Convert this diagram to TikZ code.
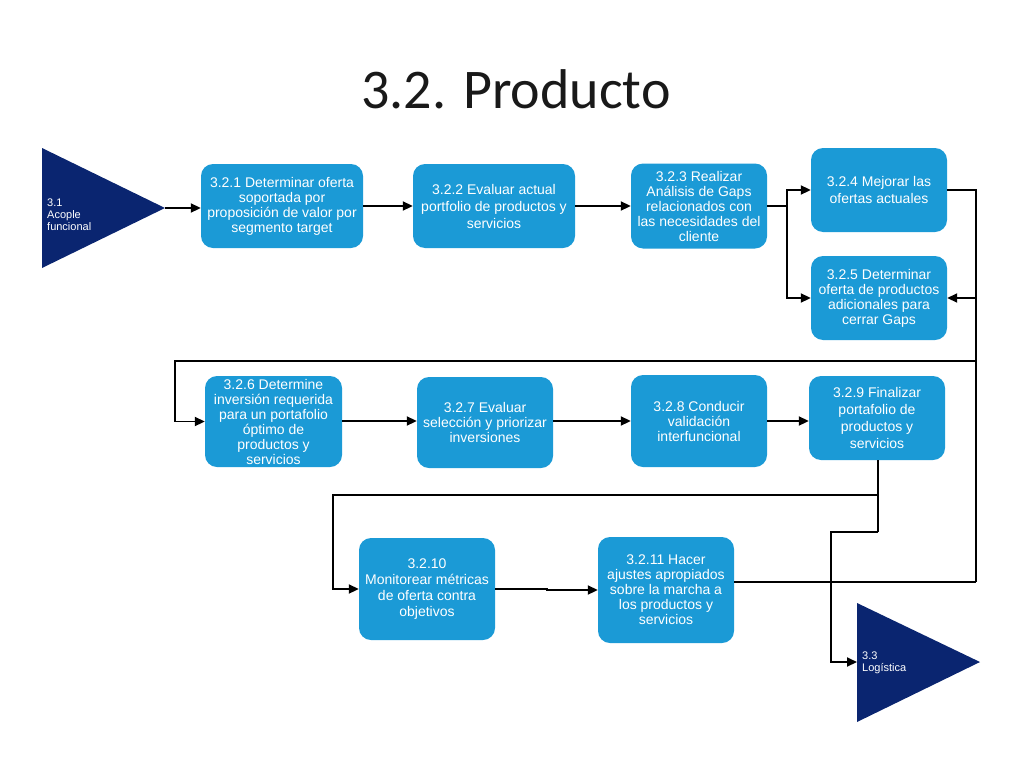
\documentclass[tikz,border=0pt]{standalone}
\usepackage{fontspec}
\setmainfont{Liberation Sans}
\newfontfamily\titlefont{Carlito}
\usetikzlibrary{arrows.meta}
\definecolor{boxblue}{RGB}{27,154,214}
\definecolor{navy}{RGB}{10,37,112}
\tikzset{
  box/.style={fill=boxblue, rounded corners=12pt, text=white, align=center, inner sep=0pt,
    minimum width=136pt, minimum height=84pt, font=\fontsize{14}{15}\selectfont},
  wide/.style={font=\fontsize{14}{17}\selectfont},
  tritext/.style={text=white, align=left, inner sep=0pt, font=\fontsize{11}{12}\selectfont},
  conn/.style={draw=black, line width=1.9pt},
  arr/.style={conn, -{Triangle[length=10pt,width=9pt]}}
}
\begin{document}
\begin{tikzpicture}[x=1pt,y=-1pt]
\useasboundingbox (0,0) rectangle (1024,768);
\node[font=\titlefont\fontsize{56}{60}\selectfont, anchor=base, text=black!90] (title) at (516,108) {3.2. Producto};

% triangles
\fill[navy] (42,148) -- (42,268) -- (165,208) -- cycle;
\coordinate (t31) at (165,208);
\node[tritext, anchor=west] (l31) at (47,215) {3.1\\Acople\\funcional};
\fill[navy] (857,603) -- (857,722) -- (980,662) -- cycle;
\coordinate (t33) at (857,662);
\node[tritext, anchor=west] (l33) at (862,663) {3.3\\Logística};

% boxes
\node[box, minimum width=162pt] (n321) at (282,206) {3.2.1 Determinar oferta\\soportada por\\proposición de valor por\\segmento target};
\node[box, wide, minimum width=162pt] (n322) at (494,206) {3.2.2 Evaluar actual\\portfolio de productos y\\servicios};
\node[box, minimum height=85pt] (n323) at (699,206) {3.2.3 Realizar\\Análisis de Gaps\\relacionados con\\las necesidades del\\cliente};
\node[box, wide] (n324) at (879,190) {3.2.4 Mejorar las\\ofertas actuales};
\node[box] (n325) at (879,298) {3.2.5 Determinar\\oferta de productos\\adicionales para\\cerrar Gaps};
\node[box, minimum width=137pt, minimum height=91pt] (n326) at (273.5,421.5) {3.2.6 Determine\\inversión requerida\\para un portafolio\\óptimo de\\productos y\\servicios};
\node[box, minimum height=91pt] (n327) at (485,422.5) {3.2.7 Evaluar\\selección y priorizar\\inversiones};
\node[box, minimum height=92pt] (n328) at (699,421) {3.2.8 Conducir\\validación\\interfuncional};
\node[box, wide] (n329) at (877,418) {3.2.9 Finalizar\\portafolio de\\productos y\\servicios};
\node[box, font=\fontsize{14}{16}\selectfont, minimum height=102pt] (n3210) at (427,589) {3.2.10\\Monitorear métricas\\de oferta contra\\objetivos};
\node[box, minimum height=106pt] (n3211) at (666,590) {3.2.11 Hacer\\ajustes apropiados\\sobre la marcha a\\los productos y\\servicios};

% coordinates for connectors
\coordinate (j1) at (787,206);
\coordinate (r0) at (976,361);
\coordinate (r1) at (976,582);
\coordinate (l1) at (175,361);
\coordinate (d1) at (878,495);
\coordinate (d2) at (878,532);
\coordinate (l2) at (333,495);
\coordinate (l3) at (831,532);
\coordinate (row2) at (0,421);

% connectors
\draw[arr] (t31) -- (t31 -| n321.west);
\draw[arr] (n321.east) -- (n322.west);
\draw[arr] (n322.east) -- (n323.west);
\draw[conn] (n323.east) -- (j1);
\draw[arr] (j1) |- (n324.west);
\draw[arr] (j1) |- (n325.west);
\draw[conn] (n324.east) -| (r1);
\draw[conn] (n3211.east |- r1) -- (r1);
\draw[arr] (n325.east -| r1) -- (n325.east);
\draw[arr] (r0) -- (l1) |- (n326.west);
\draw[arr] (n326.east |- row2) -- (n327.west |- row2);
\draw[arr] (n327.east |- row2) -- (n328.west |- row2);
\draw[arr] (n328.east |- row2) -- (n329.west |- row2);
\draw[conn] (n329.south -| d1) -- (d2);
\draw[arr] (d1) -- (l2) |- (n3210.west);
\draw[arr] (d2) -- (l3) |- (t33);
\draw[arr] (n3210.east) -- ++(52,0) |- (n3211.west);
\end{tikzpicture}
\end{document}
